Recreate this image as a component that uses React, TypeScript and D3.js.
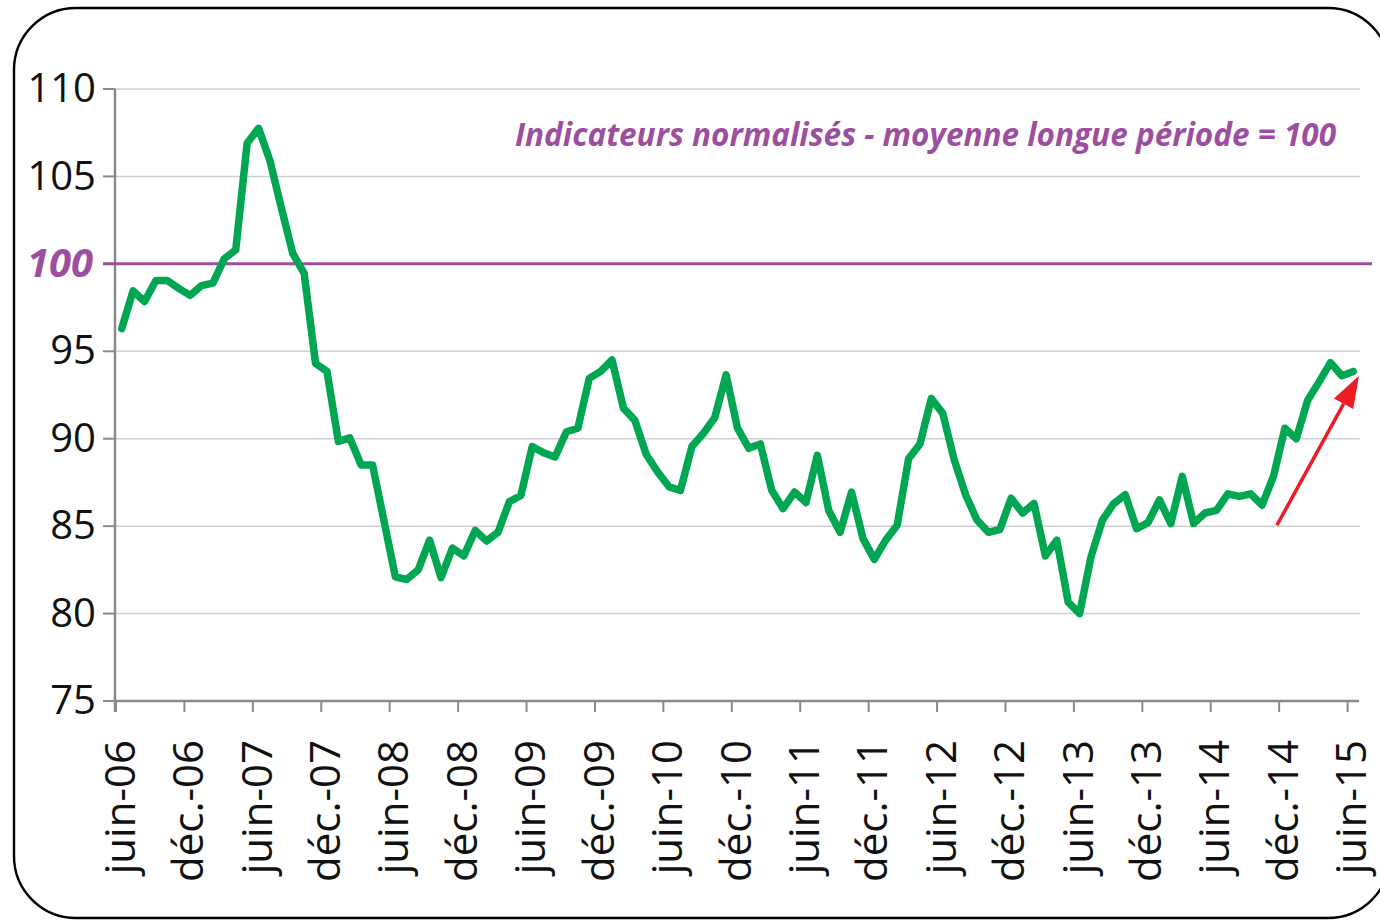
import React from "react";
import * as d3 from "d3";

// Monthly normalized indicator, juin-06 .. juin-15 (109 months)
const values: number[] = [
  96.3, 98.45, 97.85, 99.05, 99.05, 98.6, 98.2, 98.75, 98.9, 100.3,
  100.8, 106.9, 107.75, 105.9, 103.2, 100.6, 99.45, 94.3, 93.85, 89.85,
  90.05, 88.5, 88.5, 85.3, 82.1, 81.95, 82.5, 84.2, 82.05, 83.75,
  83.3, 84.75, 84.15, 84.65, 86.4, 86.75, 89.55, 89.2, 88.95, 90.4,
  90.6, 93.45, 93.85, 94.5, 91.75, 91.05, 89.1, 88.1, 87.25, 87.05,
  89.55, 90.3, 91.2, 93.65, 90.6, 89.45, 89.7, 87.05, 86.0, 86.95,
  86.35, 89.05, 85.9, 84.65, 86.95, 84.3, 83.1, 84.2, 85.05, 88.85,
  89.7, 92.3, 91.45, 88.8, 86.8, 85.35, 84.65, 84.8, 86.6, 85.75,
  86.3, 83.3, 84.2, 80.65, 80.0, 83.25, 85.35, 86.3, 86.8, 84.85,
  85.2, 86.5, 85.15, 87.85, 85.15, 85.75, 85.9, 86.85, 86.7, 86.85,
  86.2, 87.85, 90.6, 90.0, 92.2, 93.25, 94.35, 93.6, 93.85,
];

const tickLabels: string[] = [
  "juin-06", "déc.-06", "juin-07", "déc.-07", "juin-08", "déc.-08",
  "juin-09", "déc.-09", "juin-10", "déc.-10", "juin-11", "déc.-11",
  "juin-12", "déc.-12", "juin-13", "déc.-13", "juin-14", "déc.-14", "juin-15",
];

const yTicks: number[] = [75, 80, 85, 90, 95, 100, 105, 110];
const referenceValue = 100;
const title = "Indicateurs normalisés - moyenne longue période = 100";
const arrowFrom = { i: 101.8, v: 85.05 };
const arrowTo = { i: 109.0, v: 93.6 };

const W = 1380;
const H = 920;
const PURPLE = "#9d4f9f";
const GREEN = "#00a651";
const RED = "#ed1c24";
const AXIS = "#8a8a8a";
const GRID = "#cfcfcf";

export default function App() {
  const x = d3.scaleLinear().domain([0, values.length]).range([116, 1359]);
  const y = d3.scaleLinear().domain([75, 110]).range([701, 89]);

  const line = d3
    .line<number>()
    .x((_, i) => x(i + 0.5))
    .y((d) => y(d));

  const ax1 = x(arrowFrom.i);
  const ay1 = y(arrowFrom.v);
  const ax2 = x(arrowTo.i);
  const ay2 = y(arrowTo.v);
  const ang = Math.atan2(ay2 - ay1, ax2 - ax1);
  const headLen = 32;
  const headHalf = 11;
  const bx = ax2 - headLen * Math.cos(ang);
  const by = ay2 - headLen * Math.sin(ang);
  const px = -Math.sin(ang);
  const py = Math.cos(ang);
  const head = [
    [ax2, ay2],
    [bx + px * headHalf, by + py * headHalf],
    [bx - px * headHalf, by - py * headHalf],
  ]
    .map((p) => p.join(","))
    .join(" ");

  return (
    <svg
      width={W}
      height={H}
      style={{ position: "absolute", left: 0, top: 0, display: "block", background: "#fff" }}
    >
      <rect x={14} y={8} width={1376} height={910} rx={62} ry={62} fill="#fff" stroke="#000" strokeWidth={2.4} />

      {/* grid */}
      {yTicks
        .filter((t) => t !== referenceValue && t !== 75)
        .map((t) => (
          <line key={t} x1={115} x2={1360} y1={y(t)} y2={y(t)} stroke={GRID} strokeWidth={1.5} />
        ))}

      {/* y axis */}
      <line x1={115} x2={115} y1={y(110)} y2={712} stroke={AXIS} strokeWidth={2.5} />
      {yTicks.map((t) => (
        <line key={"yt" + t} x1={103} x2={115} y1={y(t)} y2={y(t)} stroke={t === referenceValue ? PURPLE : AXIS} strokeWidth={2} />
      ))}
      {yTicks.map((t) =>
        t === referenceValue ? (
          <text
            key={"yl" + t}
            x={93}
            y={y(t)}
            dy="0.33em"
            textAnchor="end"
            fontFamily="Open Sans"
            fontWeight={700}
            fontStyle="italic"
            fontSize={40}
            fill={PURPLE}
          >
            {t}
          </text>
        ) : (
          <text
            key={"yl" + t}
            x={96}
            y={y(t)}
            dy="0.33em"
            textAnchor="end"
            fontFamily="Open Sans"
            fontSize={40}
            fill="#111"
          >
            {t}
          </text>
        )
      )}

      {/* x axis */}
      <line x1={115} x2={1359} y1={y(75)} y2={y(75)} stroke={AXIS} strokeWidth={2.5} />
      {tickLabels.map((lab, k) => {
        const tx = x(k * 6);
        return (
          <g key={lab}>
            <line x1={tx} x2={tx} y1={y(75)} y2={712} stroke={AXIS} strokeWidth={2} />
            <text
              transform={`translate(${tx + 4},740) rotate(-90)`}
              textAnchor="end"
              dy="0.35em"
              fontFamily="Open Sans"
              fontSize={42}
              fill="#111"
            >
              {lab}
            </text>
          </g>
        );
      })}

      {/* reference line at 100 */}
      <line x1={103} x2={1372} y1={y(referenceValue)} y2={y(referenceValue)} stroke={PURPLE} strokeWidth={3} />

      <text
        x={1336}
        y={146}
        textAnchor="end"
        fontFamily="Open Sans"
        fontWeight={700}
        fontStyle="italic"
        fontSize={32}
        fill={PURPLE}
        textLength={821}
        lengthAdjust="spacingAndGlyphs"
      >
        {title}
      </text>

      {/* series */}
      <path d={line(values) || ""} fill="none" stroke={GREEN} strokeWidth={7.5} strokeLinejoin="round" strokeLinecap="round" />

      {/* arrow */}
      <line x1={ax1} y1={ay1} x2={bx} y2={by} stroke={RED} strokeWidth={3.5} />
      <polygon points={head} fill={RED} />
    </svg>
  );
}
